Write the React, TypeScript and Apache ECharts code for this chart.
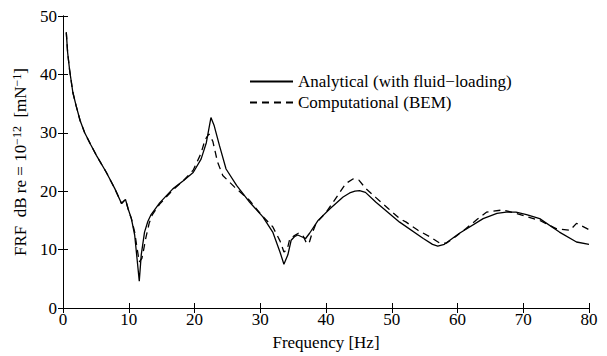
import React, { useEffect, useRef } from "react";
import * as echarts from "echarts";

const analyticalFreq = [0.5, 0.7, 1.0, 1.5, 2.0, 2.6, 3.3, 4.2, 5.1, 6.6, 7.9, 8.9, 9.5, 9.9, 10.4, 10.9, 11.3, 11.6, 11.9, 12.4, 12.9, 13.4, 14.7, 16.7, 18.3, 19.8, 21.0, 21.8, 22.5, 23.0, 23.8, 24.8, 26.4, 28.4, 30.4, 31.9, 33.0, 33.6, 34.2, 34.7, 35.2, 35.7, 36.3, 36.9, 37.5, 38.8, 40.6, 42.6, 43.6, 44.4, 45.1, 46.0, 47.6, 51.2, 54.8, 56.2, 57.0, 58.0, 60.3, 63.9, 66.0, 67.4, 68.9, 70.5, 72.5, 75.5, 78.1, 80.0];
const analyticalDb = [47.2, 43.8, 40.8, 36.9, 34.6, 32.1, 30.0, 28.0, 26.1, 23.2, 20.4, 17.9, 18.6, 17.0, 15.3, 12.5, 8.0, 4.6, 9.1, 13.0, 14.8, 16.0, 18.0, 20.4, 21.8, 23.2, 25.5, 28.3, 32.6, 31.2, 27.8, 23.8, 21.0, 18.1, 15.6, 13.0, 9.6, 7.5, 9.1, 11.6, 12.2, 12.5, 12.2, 11.9, 12.8, 15.0, 17.0, 19.0, 19.7, 20.0, 20.1, 19.8, 18.1, 14.7, 11.9, 10.9, 10.6, 10.9, 12.8, 15.3, 16.2, 16.4, 16.4, 16.0, 15.3, 13.0, 11.3, 10.9];

const bemFreq = [0.5, 0.7, 1.0, 1.5, 2.0, 2.6, 3.3, 4.2, 5.1, 6.6, 7.9, 8.9, 9.5, 9.9, 10.4, 10.9, 11.3, 11.6, 12.0, 12.2, 12.6, 13.1, 13.6, 14.7, 16.7, 18.3, 19.8, 21.0, 21.6, 22.2, 22.8, 23.5, 24.3, 26.1, 28.4, 30.2, 31.9, 33.0, 33.6, 34.1, 34.5, 35.2, 35.8, 36.5, 37.0, 37.4, 37.8, 38.5, 40.1, 41.8, 43.0, 44.1, 45.0, 46.1, 47.6, 49.5, 51.2, 52.2, 54.0, 55.8, 57.3, 58.3, 59.7, 61.3, 63.0, 64.4, 66.9, 68.9, 72.5, 75.0, 77.1, 78.1, 79.7, 80.0];
const bemDb = [47.2, 43.8, 40.8, 36.9, 34.6, 32.1, 30.0, 28.0, 26.1, 23.2, 20.4, 17.9, 18.6, 17.0, 15.3, 13.0, 10.0, 7.9, 8.5, 9.6, 12.0, 14.5, 16.0, 17.8, 20.2, 21.8, 23.6, 26.5, 28.8, 29.8, 28.5, 25.0, 22.7, 20.7, 18.4, 15.9, 13.9, 11.5, 9.6, 10.0, 11.9, 12.4, 12.8, 12.4, 11.2, 11.0, 12.5, 14.5, 16.5, 19.3, 21.3, 22.1, 21.9, 20.4, 18.9, 17.0, 15.3, 14.7, 13.3, 12.2, 11.1, 11.1, 12.2, 13.6, 15.2, 16.4, 16.8, 16.2, 15.0, 13.6, 13.3, 14.5, 13.6, 13.4];

const seriesNames = ["Analytical (with fluid\u2212loading)", "Computational (BEM)"];
const xAxisName = "Frequency [Hz]";
const xRange = [0, 80];
const yRange = [0, 50];

const FONT = "Liberation Serif";

export default function App() {
  const ref = useRef<HTMLDivElement>(null);
  useEffect(() => {
    if (!ref.current) return;
    const chart = echarts.init(ref.current, undefined, { renderer: "svg" });
    const axisLine = { show: true, lineStyle: { color: "#000", width: 1 } };
    const tick = { show: true, inside: true, length: 5, lineStyle: { color: "#000", width: 1 } };
    const label = { color: "#000", fontSize: 17, fontFamily: FONT };
    chart.setOption({
      animation: false,
      textStyle: { fontFamily: FONT },
      grid: { left: 63, right: 18, top: 16, bottom: 46 },
      legend: {
        orient: "vertical",
        left: 249,
        top: 73,
        padding: 0,
        itemWidth: 43,
        itemHeight: 14,
        itemGap: 4,
        itemStyle: { opacity: 0 },
        textStyle: { color: "#000", fontSize: 17, fontFamily: FONT },
        data: seriesNames,
      },
      xAxis: [
        {
          type: "value",
          position: "bottom",
          min: xRange[0],
          max: xRange[1],
          interval: 10,
          axisLine,
          axisTick: tick,
          splitLine: { show: false },
          axisLabel: { ...label, margin: 3 },
          name: xAxisName,
          nameLocation: "middle",
          nameGap: 26,
          nameTextStyle: label,
        },
        {
          type: "value",
          position: "top",
          min: xRange[0],
          max: xRange[1],
          interval: 10,
          axisLine,
          axisTick: tick,
          splitLine: { show: false },
          axisLabel: { show: false },
        },
      ],
      yAxis: [
        {
          type: "value",
          position: "left",
          min: yRange[0],
          max: yRange[1],
          interval: 10,
          axisLine,
          axisTick: tick,
          splitLine: { show: false },
          axisLabel: { ...label, margin: 6 },
          name: "{n|FRF  dB re = 10}{s|\u221212}{n|  [mN}{s|\u22121}{n|]}",
          nameLocation: "middle",
          nameGap: 26,
          nameTextStyle: {
            fontFamily: FONT,
            rich: {
              n: { fontSize: 17, fontFamily: FONT, color: "#000", lineHeight: 20 },
              s: { fontSize: 12, fontFamily: FONT, color: "#000", verticalAlign: "top", lineHeight: 20 },
            },
          },
        },
        {
          type: "value",
          position: "right",
          min: yRange[0],
          max: yRange[1],
          interval: 10,
          axisLine,
          axisTick: tick,
          splitLine: { show: false },
          axisLabel: { show: false },
        },
      ],
      series: [
        {
          name: seriesNames[0],
          type: "line",
          symbol: "none",
          showSymbol: false,
          data: analyticalFreq.map((f, i) => [f, analyticalDb[i]]),
          lineStyle: { color: "#000", width: 1.3, type: "solid" },
          itemStyle: { color: "#000", opacity: 0 },
        },
        {
          name: seriesNames[1],
          type: "line",
          symbol: "none",
          showSymbol: false,
          data: bemFreq.map((f, i) => [f, bemDb[i]]),
          lineStyle: { color: "#000", width: 1.3, type: [7, 5] },
          itemStyle: { color: "#000", opacity: 0 },
        },
      ],
    });
    return () => chart.dispose();
  }, []);
  return <div ref={ref} style={{ position: "fixed", left: 0, top: 0, width: 607, height: 356, background: "#fff" }} />;
}
